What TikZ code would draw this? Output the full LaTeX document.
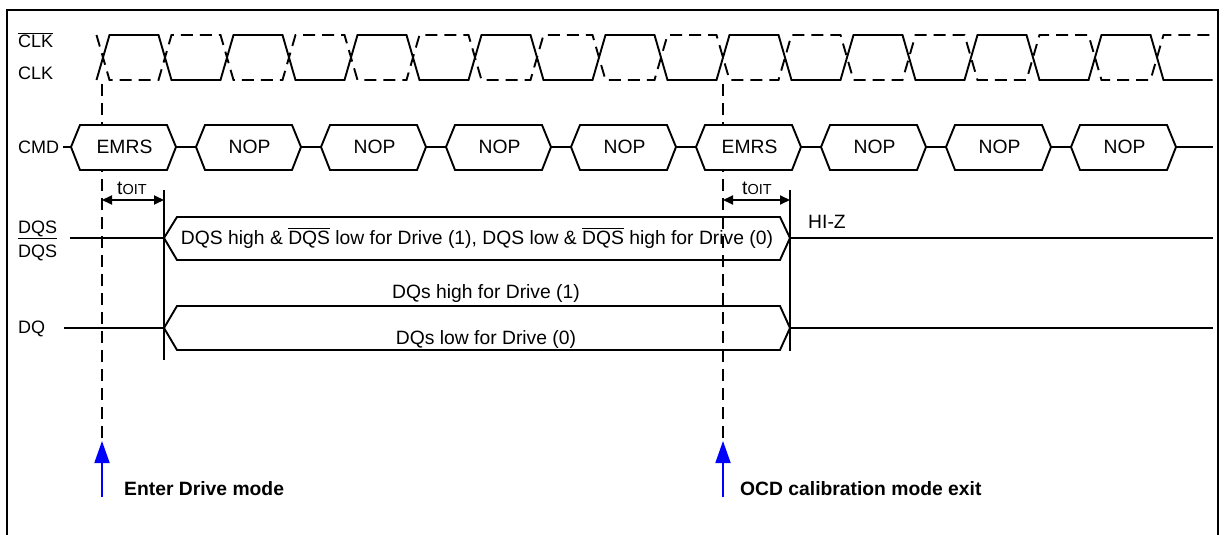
\documentclass[tikz,border=0pt]{standalone}
\usepackage{fontspec}
\setmainfont{Liberation Sans}
\usetikzlibrary{arrows.meta}
\newsavebox\ovbox
\newcommand\ovbar[1]{\sbox\ovbox{#1}\rlap{\rule[\dimexpr\ht\ovbox+1.6pt\relax]{\wd\ovbox}{1.3pt}}\usebox\ovbox}
\definecolor{markblue}{RGB}{0,0,255}
\begin{document}
\begin{tikzpicture}[x=1pt,y=-1pt,
  txt/.style={font=\fontsize{19.3}{23}\selectfont, inner sep=0pt},
  ltxt/.style={font=\fontsize{18}{22}\selectfont, inner sep=0pt},
  btxt/.style={font=\fontsize{19.3}{23}\selectfont\bfseries, inner sep=0pt},
  sig/.style={line width=1.9pt, line join=miter},
  dsh/.style={line width=1.7pt, dash pattern=on 12pt off 7pt},
  bus/.style={line width=1.9pt, line join=miter},
  dimarrow/.style={line width=1.9pt, {Triangle[length=10pt,width=9pt]}-{Triangle[length=10pt,width=9pt]}},
  modearrow/.style={line width=1.8pt, draw=markblue, -{Triangle[length=22pt,width=15pt]}, color=markblue},
  frameline/.style={line width=2pt}]
\useasboundingbox (0,0) rectangle (1224,535);
% frame
\coordinate (f1) at (7,540); \coordinate (f2) at (7,10);
\coordinate (f3) at (1218,10); \coordinate (f4) at (1218,540);
\draw[frameline] (f1) -- (f2) -- (f3) -- (f4);
% marker dashed lines
\coordinate (m1top) at (102,84); \coordinate (m1bot) at (102,441);
\coordinate (m2top) at (723,84); \coordinate (m2bot) at (723,441);
\draw[dsh] (m1top) -- (m1bot);
\draw[dsh] (m2top) -- (m2bot);
% clock
\draw[sig] (96.5,80) foreach \j in {0,...,8} { -- ({109.5+124*\j},35) -- ({158.5+124*\j},35) -- ({171.5+124*\j},80) -- ({220.5+124*\j},80) };
\draw[dsh, line width=1.9pt] (96.5,35) foreach \j in {0,...,8} { -- ({109.5+124*\j},80) -- ({158.5+124*\j},80) -- ({171.5+124*\j},35) -- ({220.5+124*\j},35) };
% labels
\node[ltxt, anchor=base west] (lclkb) at (18,48) {\ovbar{CLK}};
\node[ltxt, anchor=base west] (lclk) at (18,80) {CLK};
\node[ltxt, anchor=base west] (lcmd) at (18,153) {CMD};
\node[ltxt, anchor=base west] (ldqs) at (18,233) {DQS};
\node[ltxt, anchor=base west] (ldqsb) at (18,257) {DQS};
\coordinate (barl) at (18,238.5);
\draw[line width=1.5pt] (barl) -- (barl -| ldqsb.east);
\node[ltxt, anchor=base west] (ldq) at (18,333) {DQ};
% CMD bus
\foreach \i/\t in {0/EMRS,1/NOP,2/NOP,3/NOP,4/NOP,5/EMRS,6/NOP,7/NOP,8/NOP} {
  \pgfmathsetmacro\L{71+125*\i}
  \draw[bus, fill=white] (\L,147) coordinate (cl\i) -- (\L+9,125) -- (\L+96,125) -- (\L+105,147) coordinate (cr\i) -- (\L+96,170) -- (\L+9,170) -- cycle;
  \node[txt] (cmd\i) at (\L+53.5,147) {\t};
}
\coordinate (cmdstart) at (63,147); \coordinate (cmdend) at (1213,147);
\draw[sig] (cmdstart) -- (cl0);
\foreach \i [evaluate=\i as \n using int(\i+1)] in {0,...,7} { \draw[sig] (cr\i) -- (cl\n); }
\draw[sig] (cr8) -- (cmdend);
% DQS bus
\coordinate (dqsstart) at (70,238); \coordinate (dqsl) at (164,238);
\coordinate (dqsr) at (790,238); \coordinate (dqsend) at (1213,238);
\draw[sig] (dqsstart) -- (dqsl);
\draw[bus] (dqsl) -- (177,217) -- (780,217) -- (dqsr) -- (780,260) -- (177,260) -- cycle;
\draw[sig] (dqsr) -- (dqsend);
\node[txt, anchor=base] (dqstxt) at (477,244) {DQS high \& \ovbar{DQS} low for Drive (1), DQS low \& \ovbar{DQS} high for Drive (0)};
\node[txt, anchor=base west] (hiz) at (808,228) {HI-Z};
% DQ bus
\coordinate (dqstart) at (64,328); \coordinate (dql) at (164,328);
\coordinate (dqr) at (790,328); \coordinate (dqend) at (1213,328);
\draw[sig] (dqstart) -- (dql);
\draw[bus] (dql) -- (177,306) -- (780,306) -- (dqr) -- (780,350) -- (177,350) -- cycle;
\draw[sig] (dqr) -- (dqend);
\node[txt, anchor=base] (dqhigh) at (486,298) {DQs high for Drive (1)};
\node[txt, anchor=base] (dqlow) at (486,344) {DQs low for Drive (0)};
% tOIT
\coordinate (v1top) at (164,190); \coordinate (v1bot) at (164,360);
\coordinate (v2top) at (790,190); \coordinate (v2bot) at (790,351);
\draw[sig] (v1top) -- (v1bot);
\draw[sig] (v2top) -- (v2bot);
\coordinate (d1a) at (102,200); \coordinate (d1b) at (164,200);
\coordinate (d2a) at (723,200); \coordinate (d2b) at (790,200);
\draw[dimarrow] (d1a) -- (d1b);
\draw[dimarrow] (d2a) -- (d2b);
\node[txt, anchor=base] (toit1) at (132,194) {t{\fontsize{14.5}{16}\selectfont OIT}};
\node[txt, anchor=base] (toit2) at (757,194) {t{\fontsize{14.5}{16}\selectfont OIT}};
% markers
\coordinate (a1) at (102,497); \coordinate (a2) at (723,497);
\draw[modearrow] (a1) -- (m1bot);
\draw[modearrow] (a2) -- (m2bot);
\node[btxt, anchor=base west] (enter) at (124,495) {Enter Drive mode};
\node[btxt, anchor=base west] (exit) at (740,495) {OCD calibration mode exit};
\end{tikzpicture}
\end{document}
